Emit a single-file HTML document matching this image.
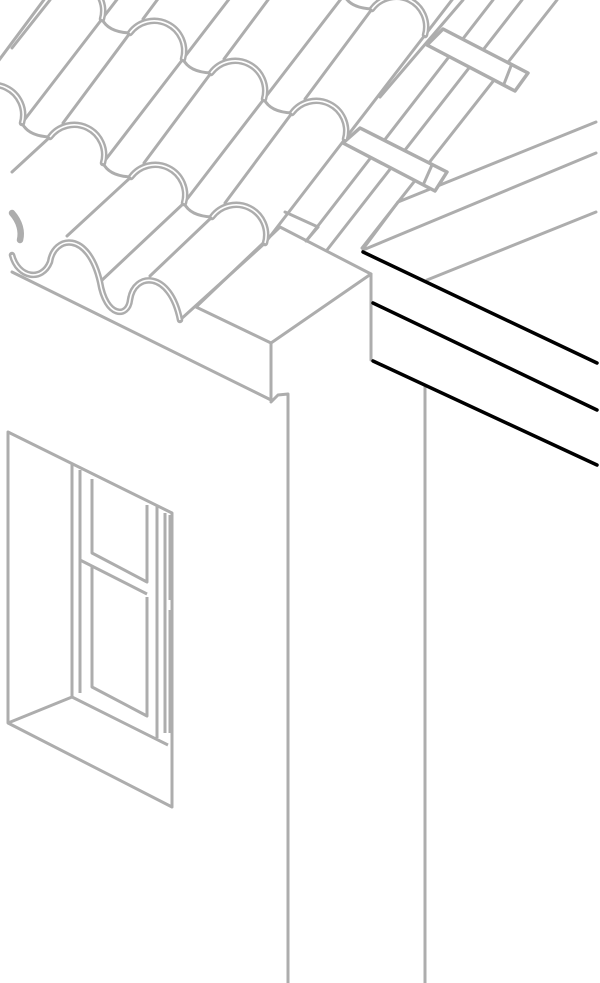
<!DOCTYPE html>
<html><head><meta charset="utf-8"><style>
html,body{margin:0;padding:0;background:#fff;}
svg{display:block;}
</style></head><body>
<svg width="600" height="983" viewBox="0 0 600 983" xmlns="http://www.w3.org/2000/svg">
<g fill="none" stroke="#adadad" stroke-width="3" stroke-linecap="round" stroke-linejoin="round">
<polygon points="196,307 271,343 371,274 280,227" fill="#fff"/>
<polyline points="12,272 271,400 271,343"/>
<polyline points="271,402 278,395 288,394 288,983"/>
<line x1="371" y1="274" x2="371" y2="360"/>
<line x1="425" y1="387" x2="425" y2="983"/>
<line x1="398" y1="202" x2="596" y2="122"/>
<line x1="363" y1="250" x2="596" y2="153"/>
<line x1="427" y1="280" x2="596" y2="212"/>
<line x1="363" y1="249" x2="398" y2="202"/>
<line x1="493" y1="0" x2="307" y2="240"/>
<line x1="522" y1="0" x2="327" y2="250"/>
<line x1="557" y1="0" x2="362" y2="248"/>
<line x1="463" y1="0" x2="380" y2="97"/>
<line x1="285" y1="212" x2="318" y2="227"/>
<line x1="318" y1="227" x2="306" y2="241"/>
<polyline points="22,123 102,19 142,-33"/>
<line x1="-18" y1="83" x2="49" y2="-7"/>
<line x1="12" y1="48" x2="50" y2="0"/>
<line x1="12" y1="172" x2="50" y2="137"/>
<polyline points="103,163 183,59 263,-45"/>
<line x1="63" y1="123" x2="130" y2="33"/>
<line x1="143" y1="19" x2="210" y2="-71"/>
<line x1="67" y1="236" x2="131" y2="177"/>
<line x1="100" y1="282" x2="184" y2="203"/>
<polyline points="184,203 264,99 344,-5"/>
<line x1="144" y1="163" x2="211" y2="73"/>
<line x1="224" y1="59" x2="291" y2="-31"/>
<line x1="150" y1="276" x2="212" y2="217"/>
<line x1="180" y1="320" x2="265" y2="243"/>
<polyline points="265,243 345,139 425,35 505,-69"/>
<line x1="225" y1="203" x2="292" y2="113"/>
<line x1="305" y1="99" x2="372" y2="9"/>
<line x1="385" y1="-5" x2="400" y2="-20"/>
<path d="M22,123 Q28,136 50,137"/>
<path d="M103,163 Q109,176 131,177"/>
<path d="M184,203 Q190,216 212,217"/>
<path d="M102,19 Q108,32 130,33"/>
<path d="M183,59 Q189,72 211,73"/>
<path d="M264,99 Q270,112 292,113"/>
<path d="M344,-5 Q350,8 372,9"/>
<polygon points="443,29 528,73 515,91 427,45" fill="#fff" stroke-width="3.5"/>
<line x1="511" y1="66" x2="504" y2="84"/>
<polygon points="360,128 447,172 435,191 343,143" fill="#fff" stroke-width="3.5"/>
<line x1="432" y1="165" x2="424" y2="183"/>
</g>
<g fill="#fff" stroke="#adadad" stroke-width="6.5" stroke-linecap="round">
<path d="M-31,97 A30,30 0 0 1 22,123"/>
<path d="M50,137 A30,30 0 0 1 103,163"/>
<path d="M131,177 A30,30 0 0 1 184,203"/>
<path d="M212,217 A30,30 0 0 1 265,243"/>
<path d="M49,-7 A30,30 0 0 1 102,19"/>
<path d="M130,33 A30,30 0 0 1 183,59"/>
<path d="M211,73 A30,30 0 0 1 264,99"/>
<path d="M292,113 A30,30 0 0 1 345,139"/>
<path d="M291,-31 A30,30 0 0 1 344,-5"/>
<path d="M372,9 A30,30 0 0 1 425,35"/>
<path d="M12,255 C18,278 42,282 50,262 C54,236 88,230 100,282 C106,318 128,318 130,300 C134,272 170,270 180,320" fill="none"/>
<path d="M12,213 C20,222 22,232 20,240" fill="none"/>
</g>
<g fill="none" stroke="#fff" stroke-width="1.6">
<path d="M-31,97 A30,30 0 0 1 22,123"/>
<path d="M50,137 A30,30 0 0 1 103,163"/>
<path d="M131,177 A30,30 0 0 1 184,203"/>
<path d="M212,217 A30,30 0 0 1 265,243"/>
<path d="M49,-7 A30,30 0 0 1 102,19"/>
<path d="M130,33 A30,30 0 0 1 183,59"/>
<path d="M211,73 A30,30 0 0 1 264,99"/>
<path d="M292,113 A30,30 0 0 1 345,139"/>
<path d="M291,-31 A30,30 0 0 1 344,-5"/>
<path d="M372,9 A30,30 0 0 1 425,35"/>
<path d="M12,255 C18,278 42,282 50,262 C54,236 88,230 100,282 C106,318 128,318 130,300 C134,272 170,270 180,320"/>
</g>
<g fill="none" stroke="#adadad" stroke-width="3" stroke-linejoin="round">
<polygon points="8,432 172,513 172,807 8,723"/>
<polyline points="8,723 72,697 168,745"/>
<line x1="72" y1="463" x2="72" y2="697"/>
<line x1="80" y1="470" x2="80" y2="693"/>
<polyline points="92,479 92,553 147,582 147,505"/>
<polyline points="80,560 147,594"/>
<polyline points="92,567 92,687 147,716 147,597"/>
<line x1="157" y1="505" x2="157" y2="738"/>
<line x1="165" y1="513" x2="165" y2="733"/>
<line x1="170" y1="515" x2="170" y2="600"/>
<line x1="170" y1="610" x2="170" y2="733"/>
</g>
<g stroke="#000" stroke-width="3.5" stroke-linecap="round">
<line x1="363" y1="252" x2="597" y2="363"/>
<line x1="373" y1="303" x2="597" y2="410"/>
<line x1="373" y1="361" x2="597" y2="465"/>
</g>
</svg>
</body></html>
